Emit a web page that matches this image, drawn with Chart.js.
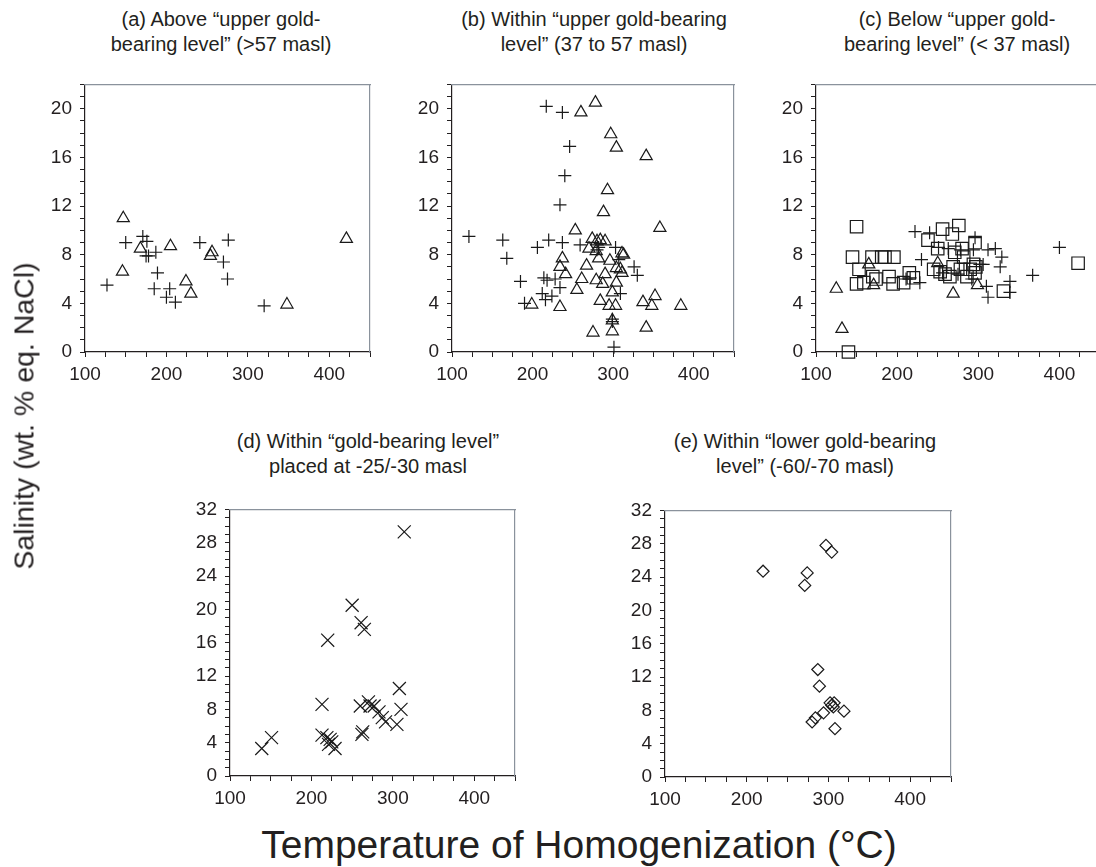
<!DOCTYPE html>
<html>
<head>
<meta charset="utf-8">
<script src="https://cdn.jsdelivr.net/npm/chart.js@4.4.1/dist/chart.umd.min.js"></script>
<style>
html,body{margin:0;padding:0;background:#fff;overflow:hidden;width:1096px;height:867px;}
body{position:relative;font-family:"Liberation Sans",Arial,sans-serif;color:#231f20;}
canvas{position:absolute;}
.ptitle{position:absolute;font-size:20px;line-height:25px;text-align:center;white-space:nowrap;transform:translateX(-50%);}
.axtitle{position:absolute;white-space:nowrap;}
</style>
</head>
<body>
<canvas id="ca"></canvas>
<canvas id="cb"></canvas>
<canvas id="cc"></canvas>
<canvas id="cd"></canvas>
<canvas id="ce"></canvas>
<div class="ptitle" style="left:221px;top:7px;">(a) Above “upper gold-<br>bearing level” (&gt;57 masl)</div>
<div class="ptitle" style="left:594px;top:7px;">(b) Within “upper gold-bearing<br>level” (37 to 57 masl)</div>
<div class="ptitle" style="left:957px;top:7px;">(c) Below “upper gold-<br>bearing level” (&lt; 37 masl)</div>
<div class="ptitle" style="left:368px;top:429px;">(d) Within “gold-bearing level”<br>placed at -25/-30 masl</div>
<div class="ptitle" style="left:805px;top:429px;">(e) Within “lower gold-bearing<br>level” (-60/-70 masl)</div>
<div class="axtitle" style="font-size:28.5px;left:24px;top:416px;transform:translate(-50%,-50%) rotate(-90deg);">Salinity (wt. % eq. NaCl)</div>
<div class="axtitle" style="font-size:39px;left:579px;top:845px;transform:translate(-50%,-50%);">Temperature of Homogenization (°C)</div>
<script>
// ---- tick labels ----
const xTickLabels = [100, 200, 300, 400];
const yTickLabelsUpper = [0, 4, 8, 12, 16, 20];
const yTickLabelsLower = [0, 4, 8, 12, 16, 20, 24, 28, 32];

// ---- (a) above upper gold-bearing level ----
const aTriangles = [[147,11.0],[146,6.6],[168,8.5],[205,8.7],[224,5.8],[230,4.8],[254,7.9],[256,8.2],[348,3.9],[421,9.3]];
const aCrosses = [[127,5.5],[150,9.0],[171,9.5],[176,9.1],[175,7.9],[178,7.9],[187,8.2],[189,6.5],[185,5.2],[204,5.2],[200,4.5],[211,4.1],[241,9.0],[276,9.2],[270,7.4],[275,6.0],[320,3.8]];

// ---- (b) within upper gold-bearing level ----
const bCrosses = [[121,9.5],[163,9.2],[168,7.7],[185,5.8],[190,4.0],[217,20.2],[237,19.7],[246,16.9],[240,14.5],[234,12.1],[206,8.6],[220,9.2],[237,9.0],[214,6.1],[218,5.9],[228,6.0],[234,5.3],[212,4.8],[216,4.3],[224,4.6],[259,8.8],[280,8.4],[282,8.6],[303,8.6],[307,7.6],[309,4.8],[326,7.0],[330,6.3],[299,2.7],[299,2.5],[301,0.4]];
const bTriangles = [[199,3.9],[234,3.7],[237,7.7],[234,7.0],[241,6.4],[255,5.1],[261,6.0],[253,10.0],[260,19.7],[278,20.5],[297,17.9],[304,16.8],[341,16.1],[293,13.3],[288,11.5],[358,10.2],[267,7.1],[270,8.5],[274,9.3],[280,9.1],[284,9.2],[290,9.1],[279,8.3],[282,7.7],[279,5.9],[287,5.6],[290,6.4],[296,7.5],[304,6.9],[309,6.8],[311,6.5],[304,5.7],[299,4.9],[284,4.2],[295,3.8],[303,3.8],[311,8.1],[313,8.0],[337,4.1],[348,3.8],[352,4.6],[384,3.8],[341,2.0],[275,1.6],[299,1.7],[299,2.6]];

// ---- (c) below upper gold-bearing level ----
const cSquares = [[150,10.3],[145,7.8],[153,6.8],[150,5.6],[159,5.7],[169,7.8],[181,7.8],[185,7.8],[196,7.8],[170,6.2],[174,6.0],[190,6.2],[195,5.6],[208,5.7],[215,6.5],[220,6.1],[238,9.2],[256,10.1],[268,9.7],[276,10.4],[250,8.5],[245,6.8],[253,6.6],[259,6.4],[265,6.2],[269,7.0],[280,8.5],[282,7.8],[278,6.8],[286,6.2],[294,7.2],[296,9.0],[297,7.0],[296,6.5],[331,5.0],[423,7.3],[140,0.0],[271,8.2],[290,6.8]];
const cTriangles = [[125,5.2],[132,1.9],[165,7.2],[171,5.5],[250,7.3],[269,4.8],[299,5.5]];
const cCrosses = [[222,9.9],[240,9.8],[230,7.6],[228,5.7],[211,6.0],[216,6.1],[251,8.6],[263,8.5],[278,8.4],[294,8.4],[296,9.4],[312,8.4],[321,8.5],[329,7.8],[327,7.0],[310,5.4],[312,4.5],[339,5.8],[339,4.9],[367,6.3],[400,8.6],[302,7.2],[306,7.2],[292,6.0],[256,6.5],[275,6.4]];

// ---- (d) gold-bearing level -25/-30 masl ----
const dXMarks = [[139,3.3],[151,4.6],[213,8.6],[213,4.9],[220,16.3],[219,4.6],[223,4.4],[225,4.1],[221,3.8],[229,3.3],[250,20.5],[261,18.4],[265,17.6],[260,8.4],[263,5.3],[262,5.0],[270,8.9],[277,8.4],[283,7.7],[287,7.0],[291,6.5],[305,6.2],[308,10.5],[310,8.0],[314,29.3],[272,8.4]];

// ---- (e) lower gold-bearing level -60/-70 masl ----
const eDiamonds = [[220,24.7],[274,24.5],[271,23.0],[297,27.8],[304,27.0],[287,12.9],[289,10.9],[280,6.6],[284,7.1],[294,7.7],[304,8.6],[307,8.9],[306,8.4],[319,7.9],[308,5.8],[302,8.9]];

// ---- layout ----
const AXW = 60, AXH = 45, PADT = 12, PADR = 12;
const FONT = '"Liberation Sans", Arial, sans-serif';
const INK = '#231f20';
const FRAME = '#8a929c';

function pts(arr){ return arr.map(p => ({x:p[0], y:p[1]})); }
function ds(arr, style, r){
  return { data: pts(arr), pointStyle: style, pointRadius: r, pointHoverRadius: r,
           borderColor: '#1a1a1a', backgroundColor: 'rgba(0,0,0,0)', borderWidth: 1.2,
           pointBorderWidth: 1.2, showLine: false, clip: false };
}

function makeChart(id, box, yMax, yLabels, datasets){
  const cv = document.getElementById(id);
  cv.width = box.w + AXW + PADR;
  cv.height = box.h + PADT + AXH;
  cv.style.left = (box.x - AXW) + 'px';
  cv.style.top = (box.y - PADT) + 'px';
  new Chart(cv, {
    type: 'scatter',
    data: { datasets },
    options: {
      responsive: false, animation: false, devicePixelRatio: 1,
      layout: { padding: { top: PADT, right: PADR, left: 0, bottom: 0 } },
      plugins: { legend: { display: false }, tooltip: { enabled: false } },
      scales: {
        x: {
          type: 'linear', position: 'bottom', min: 100, max: 450,
          ticks: { stepSize: 25, autoSkip: false, maxRotation: 0, padding: 6, color: INK,
                   font: { family: FONT, size: 19 },
                   callback: v => xTickLabels.includes(v) ? String(v) : '' },
          grid: { display: true, drawOnChartArea: false, drawTicks: true, tickLength: 5, tickColor: INK, tickWidth: 1 },
          border: { display: true, color: INK, width: 1.2 },
          afterFit: s => { s.height = AXH; }
        },
        y: {
          type: 'linear', position: 'left', min: 0, max: yMax,
          ticks: { stepSize: 1, autoSkip: false, padding: 8, color: INK,
                   font: { family: FONT, size: 19 },
                   callback: v => yLabels.includes(v) ? String(v) : '' },
          grid: { display: true, drawOnChartArea: false, drawTicks: true, tickLength: 5, tickColor: INK, tickWidth: 1 },
          border: { display: true, color: INK, width: 1.2 },
          afterFit: s => { s.width = AXW; }
        },
        x2: {
          type: 'linear', position: 'top', display: true,
          ticks: { display: false }, grid: { display: false, drawTicks: false },
          border: { display: true, color: FRAME, width: 1.2 },
          afterFit: s => { s.height = 0; }
        },
        y2: {
          type: 'linear', position: 'right', display: true,
          ticks: { display: false }, grid: { display: false, drawTicks: false },
          border: { display: true, color: FRAME, width: 1.2 },
          afterFit: s => { s.width = 0; }
        }
      }
    }
  });
}

makeChart('ca', {x:85, y:77, w:285, h:275}, 22, yTickLabelsUpper,
  [ds(aCrosses,'cross',6.5), ds(aTriangles,'triangle',7)]);
makeChart('cb', {x:452, y:77, w:282, h:275}, 22, yTickLabelsUpper,
  [ds(bCrosses,'cross',6.5), ds(bTriangles,'triangle',7)]);
makeChart('cc', {x:816, y:77, w:284, h:275}, 22, yTickLabelsUpper,
  [ds(cCrosses,'cross',6.5), ds(cSquares,'rect',8.8), ds(cTriangles,'triangle',7)]);
makeChart('cd', {x:230, y:502, w:285, h:274}, 32, yTickLabelsLower,
  [ds(dXMarks,'crossRot',9.2)]);
makeChart('ce', {x:665, y:503, w:286, h:274}, 32, yTickLabelsLower,
  [ds(eDiamonds,'rectRot',6)]);
</script>
</body>
</html>
